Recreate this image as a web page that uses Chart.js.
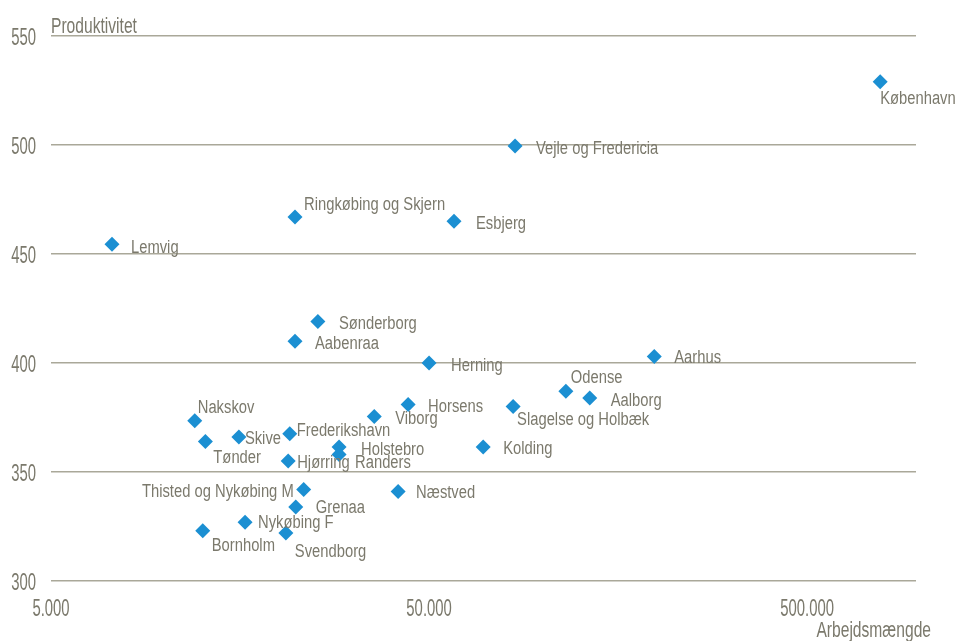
<!DOCTYPE html>
<html>
<head>
<meta charset="utf-8">
<script src="https://cdn.jsdelivr.net/npm/chart.js@4/dist/chart.umd.min.js"></script>
<style>
  html, body { margin: 0; padding: 0; background: #fff; }
  #wrap { width: 960px; height: 641px; }
</style>
</head>
<body>
<div id="wrap"><canvas id="chart" width="960" height="641"></canvas></div>
<script>
// Data
const regions = ["København", "Vejle og Fredericia", "Ringkøbing og Skjern", "Esbjerg", "Lemvig",
    "Sønderborg", "Aabenraa", "Herning", "Aarhus", "Odense", "Aalborg", "Horsens",
    "Slagelse og Holbæk", "Viborg", "Nakskov", "Frederikshavn", "Skive", "Tønder",
    "Holstebro", "Randers", "Kolding", "Hjørring", "Thisted og Nykøbing M", "Næstved",
    "Grenaa", "Nykøbing F", "Bornholm", "Svendborg"];
const arbejdsmaengde = [780000, 84400, 22100, 58200, 7250,
    25400, 22100, 50000, 197000, 115000, 133000, 44000,
    83400, 35800, 12000, 21400, 15700, 12800,
    28900, 28900, 69500, 21200, 23300, 41400,
    22200, 16300, 12600, 20900];
const produktivitet = [529, 499.5, 467, 465, 454.5,
    419, 410, 400, 403, 387, 384, 381,
    380, 375.5, 373.5, 367.5, 366, 364,
    361.5, 358, 361.5, 355, 342, 341,
    334, 327, 323, 322];
const xTicks = [5000, 50000, 500000];
const yTicks = [300, 350, 400, 450, 500, 550];

// Where each label sits relative to its marker: [dx, dy, align]
const labelPlacement = [[0, 17, "left"], [21, 3, "left"], [9, -12, "left"], [22, 3, "left"], [19, 4, "left"],
    [21, 2, "left"], [20, 3, "left"], [22, 3, "left"], [20, 2, "left"], [5, -13, "left"], [21, 3, "left"], [20, 3, "left"],
    [4, 13, "left"], [21, 3, "left"], [3, -13, "left"], [7, -3, "left"], [6, 2, "left"], [8, 17, "left"],
    [22, 3, "left"], [16, 8, "left"], [20, 2, "left"], [9, 2, "left"], [-10, 3, "right"], [18, 1, "left"],
    [20, 1, "left"], [13, 1, "left"], [9, 15, "left"], [9, 19, "left"]];

const textColor = "#7b796c";
const gridColor = "#aaa899";
const pointColor = "#1b8fd2";
const baseFont = "'Liberation Sans', Arial, sans-serif";

function formatThousands(v) {
    return String(v).replace(/\B(?=(\d{3})+(?!\d))/g, ".");
}

// condensed text: regular sans squeezed horizontally
function narrowText(ctx, text, x, y, align, squeeze) {
    ctx.save();
    ctx.translate(x, y);
    ctx.scale(squeeze, 1);
    ctx.textAlign = align;
    ctx.fillText(text, 0, 0);
    ctx.restore();
}

// Draws tick labels, region names and both axis titles
const textLayer = {
    id: "textLayer",
    afterDatasetsDraw(chart) {
        const ctx = chart.ctx;
        const xs = chart.scales.x;
        const ys = chart.scales.y;
        ctx.save();
        ctx.fillStyle = textColor;

        // tick labels
        ctx.font = "24px " + baseFont;
        ctx.textBaseline = "middle";
        ys.ticks.forEach(t => narrowText(ctx, String(t.value), 36, ys.getPixelForValue(t.value) + 2, "right", 0.62));
        xs.ticks.forEach(t => narrowText(ctx, formatThousands(t.value), xs.getPixelForValue(t.value), 609, "center", 0.62));

        // region names
        ctx.font = "18px " + baseFont;
        const meta = chart.getDatasetMeta(0);
        meta.data.forEach((pt, i) => {
            const p = labelPlacement[i];
            narrowText(ctx, regions[i], pt.x + p[0], pt.y + p[1], p[2], 0.82);
        });

        // axis titles
        ctx.font = "22px " + baseFont;
        ctx.textBaseline = "alphabetic";
        narrowText(ctx, "Produktivitet", chart.chartArea.left, 33, "left", 0.71);
        narrowText(ctx, "Arbejdsmængde", 931, 637, "right", 0.71);
        ctx.restore();
    }
};

new Chart(document.getElementById("chart").getContext("2d"), {
    type: "scatter",
    data: {
        datasets: [{
            data: arbejdsmaengde.map((x, i) => ({ x: x, y: produktivitet[i] })),
            pointStyle: "rectRot",
            pointRadius: 7.5,
            pointHoverRadius: 7.5,
            backgroundColor: pointColor,
            borderColor: pointColor,
            borderWidth: 0
        }]
    },
    options: {
        responsive: false,
        animation: false,
        layout: { padding: { left: 0, right: 44, top: 36, bottom: 0 } },
        plugins: {
            legend: { display: false },
            tooltip: { enabled: false }
        },
        scales: {
            x: {
                type: "logarithmic",
                min: 5000,
                max: 970000,
                afterBuildTicks: scale => { scale.ticks = xTicks.map(v => ({ value: v })); },
                afterFit: scale => { scale.height = 60; },
                grid: { display: false, drawTicks: false },
                border: { display: false },
                ticks: { display: false }
            },
            y: {
                min: 300,
                max: 550,
                afterBuildTicks: scale => { scale.ticks = yTicks.map(v => ({ value: v })); },
                afterFit: scale => { scale.width = 51; },
                grid: { color: gridColor, lineWidth: 1.5, drawTicks: false },
                border: { display: false },
                ticks: { display: false }
            }
        }
    },
    plugins: [textLayer]
});
</script>
</body>
</html>
